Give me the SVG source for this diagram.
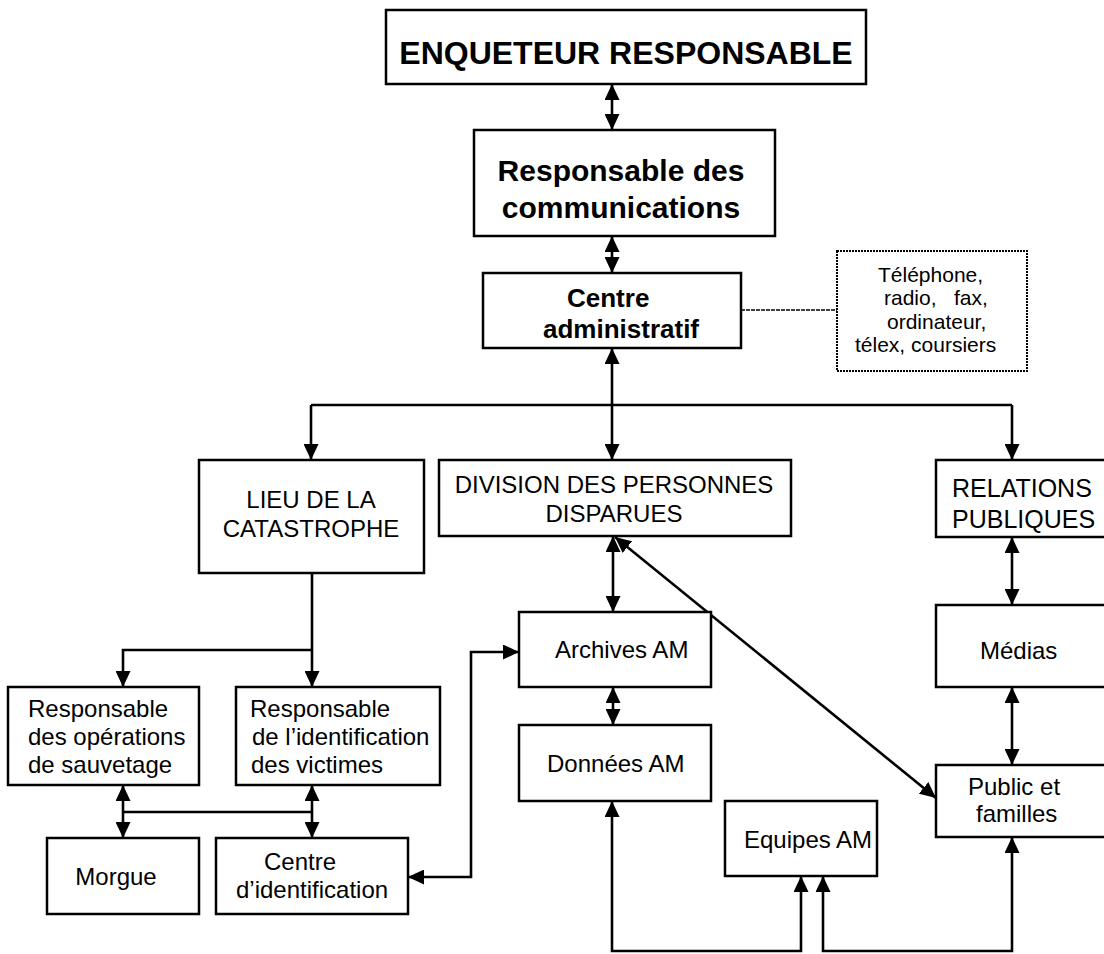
<svg xmlns="http://www.w3.org/2000/svg" width="1104" height="954" viewBox="0 0 1104 954">
  <style>
    .box { fill: #fff; stroke: #000; stroke-width: 2.5; }
    .dot { fill: #fff; stroke: #000; stroke-width: 2; stroke-dasharray: 2 1; }
    .t { font-family: "Liberation Sans", Arial, sans-serif; font-size: 24px; fill: #000; }
    .b { font-weight: bold; }
    .s { font-size: 21px; white-space: pre; }
    .m { text-anchor: middle; }
    .c { fill: none; stroke: #000; stroke-width: 2.6; }
    .cd { fill: none; stroke: #000; stroke-width: 1.6; stroke-dasharray: 4 1; }
    .a1 { marker-end: url(#ah); }
    .a2 { marker-start: url(#ah); marker-end: url(#ah); }
  </style>
  <defs>
    <marker id="ah" markerUnits="userSpaceOnUse" markerWidth="17" markerHeight="15" refX="16" refY="7.5" orient="auto-start-reverse">
      <path d="M0,0 L16,7.5 L0,15 z" fill="#000"/>
    </marker>
  </defs>
  <rect width="1104" height="954" fill="#fff"/>

  <g id="connectors">
    <line class="c a2" x1="612" y1="84" x2="612" y2="130"/>
    <line class="c a2" x1="612" y1="236" x2="612" y2="273"/>
    <line class="cd" x1="741" y1="310" x2="837" y2="310"/>
    <line class="c a2" x1="612" y1="348" x2="612" y2="460"/>
    <path class="c" d="M311,405 H1012"/>
    <line class="c a1" x1="311" y1="405" x2="311" y2="460"/>
    <line class="c a1" x1="1012" y1="405" x2="1012" y2="460"/>
    <line class="c a1" x1="312" y1="573" x2="312" y2="687"/>
    <path class="c a1" d="M312,650 H123 V687"/>
    <line class="c a2" x1="123" y1="785" x2="123" y2="838"/>
    <line class="c a2" x1="312" y1="785" x2="312" y2="838"/>
    <path class="c" d="M123,812 H312"/>
    <path class="c a2" d="M408,877 H471 V652 H519"/>
    <line class="c a2" x1="613" y1="536" x2="613" y2="612"/>
    <line class="c a2" x1="613" y1="687" x2="613" y2="725"/>
    <line class="c a2" x1="615" y1="537" x2="936" y2="798"/>
    <path class="c a2" d="M612,801 V951 H801 V876"/>
    <path class="c a2" d="M823,876 V951 H1012 V837"/>
    <line class="c a2" x1="1012" y1="537" x2="1012" y2="605"/>
    <line class="c a2" x1="1012" y1="687" x2="1012" y2="765"/>
  </g>

  <g id="enqueteur">
    <rect class="box" x="386" y="10" width="480" height="74"/>
    <text class="t b m" x="626" y="64" style="font-size:32px">ENQUETEUR RESPONSABLE</text>
  </g>
  <g id="resp-communications">
    <rect class="box" x="474" y="130" width="301" height="106"/>
    <text class="t b m" x="621" y="181" style="font-size:30px">Responsable des</text>
    <text class="t b m" x="621" y="218" style="font-size:30px">communications</text>
  </g>
  <g id="centre-administratif">
    <rect class="box" x="483" y="273" width="258" height="75"/>
    <text class="t b" x="567" y="307" style="font-size:26px">Centre</text>
    <text class="t b" x="543" y="338" style="font-size:26px">administratif</text>
  </g>
  <g id="moyens">
    <rect class="dot" x="837" y="251" width="190" height="120"/>
    <text class="t s" x="878" y="282">Téléphone,</text>
    <text class="t s" x="884" y="305">radio,   fax,</text>
    <text class="t s" x="887" y="329">ordinateur,</text>
    <text class="t s" x="855" y="352">télex, coursiers</text>
  </g>
  <g id="lieu">
    <rect class="box" x="199" y="460" width="225" height="113"/>
    <text class="t m" x="311" y="508">LIEU DE LA</text>
    <text class="t m" x="311" y="537">CATASTROPHE</text>
  </g>
  <g id="division">
    <rect class="box" x="439" y="460" width="352" height="76"/>
    <text class="t m" x="614" y="493">DIVISION DES PERSONNES</text>
    <text class="t m" x="614" y="522">DISPARUES</text>
  </g>
  <g id="relations">
    <rect class="box" x="936" y="460" width="180" height="77"/>
    <text class="t" x="952" y="497" style="font-size:25px">RELATIONS</text>
    <text class="t" x="952" y="528" style="font-size:25px">PUBLIQUES</text>
  </g>
  <g id="sauvetage">
    <rect class="box" x="8" y="687" width="191" height="98"/>
    <text class="t" x="28" y="717">Responsable</text>
    <text class="t" x="28" y="745">des opérations</text>
    <text class="t" x="28" y="773">de sauvetage</text>
  </g>
  <g id="identification">
    <rect class="box" x="236" y="687" width="204" height="98"/>
    <text class="t" x="250" y="717">Responsable</text>
    <text class="t" x="252" y="745">de l’identification</text>
    <text class="t" x="251" y="773">des victimes</text>
  </g>
  <g id="morgue">
    <rect class="box" x="47" y="838" width="152" height="76"/>
    <text class="t m" x="116" y="885">Morgue</text>
  </g>
  <g id="centre-identification">
    <rect class="box" x="216" y="838" width="192" height="76"/>
    <text class="t" x="264" y="870">Centre</text>
    <text class="t" x="236" y="898">d’identification</text>
  </g>
  <g id="archives">
    <rect class="box" x="519" y="612" width="192" height="75"/>
    <text class="t" x="555" y="658">Archives AM</text>
  </g>
  <g id="donnees">
    <rect class="box" x="519" y="725" width="192" height="76"/>
    <text class="t" x="547" y="772">Données AM</text>
  </g>
  <g id="equipes">
    <rect class="box" x="725" y="801" width="152" height="75"/>
    <text class="t" x="744" y="848">Equipes AM</text>
  </g>
  <g id="medias">
    <rect class="box" x="936" y="605" width="180" height="82"/>
    <text class="t" x="980" y="659">Médias</text>
  </g>
  <g id="public">
    <rect class="box" x="936" y="765" width="180" height="72"/>
    <text class="t" x="968" y="795">Public et</text>
    <text class="t" x="976" y="822">familles</text>
  </g>
</svg>
